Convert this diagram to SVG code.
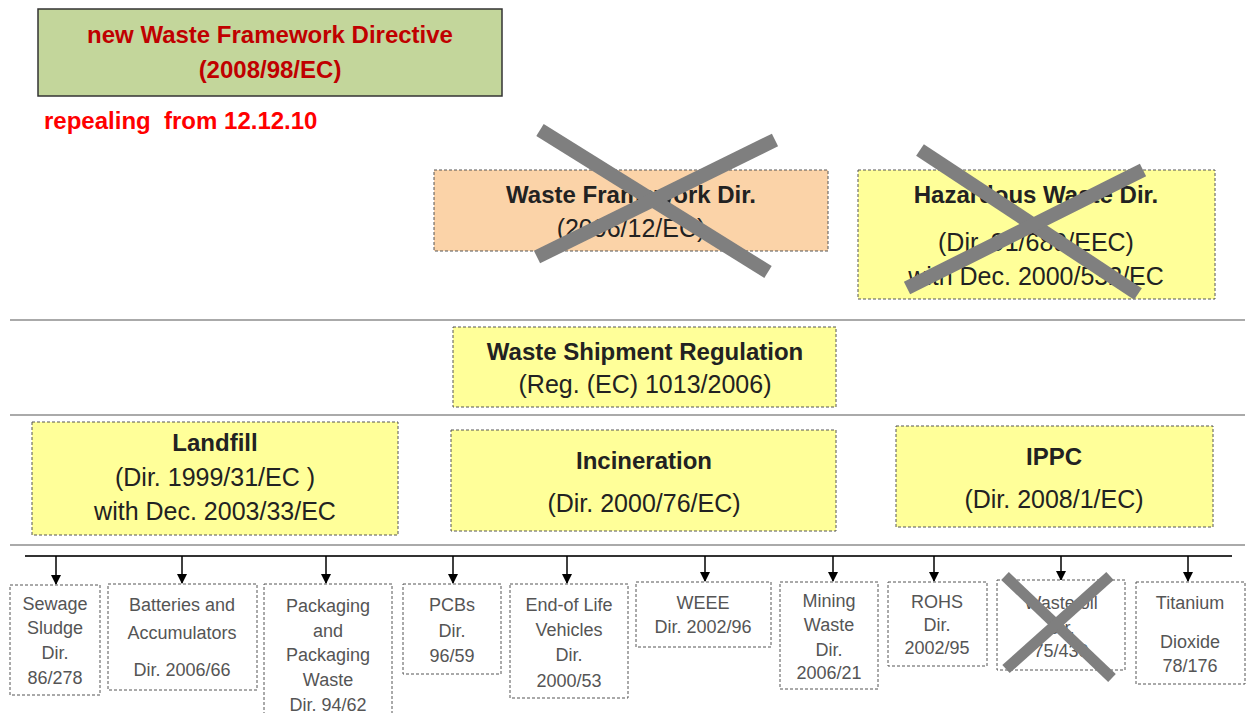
<svg xmlns="http://www.w3.org/2000/svg" width="1247" height="713" viewBox="0 0 1247 713">
<defs>
<marker id="ah" markerWidth="10" markerHeight="10" refX="9" refY="5" orient="auto" markerUnits="userSpaceOnUse" viewBox="0 0 10 10">
<path d="M0,0 L10,5 L0,10 Z" fill="#000"/>
</marker>
<style>
.t{font-family:"Liberation Sans",Arial,sans-serif;text-anchor:middle;fill:#222}
.b{font-weight:bold}
.big{font-size:25px}
.bb{font-size:24px;font-weight:bold}
.sm{font-size:18px;fill:#555}
.box{stroke:#555;stroke-width:1;stroke-dasharray:3,2}
.y{fill:#ffff99}
.w{fill:#fff}
.sep{stroke:#aaa;stroke-width:2}
.x{stroke:#7f7f7f;stroke-width:14;stroke-linecap:butt}
.arr{stroke:#000;stroke-width:1.5;marker-end:url(#ah)}
</style>
</defs>
<rect width="1247" height="713" fill="#fff"/>

<g id="sep-lines">
<line class="sep" x1="10" y1="320" x2="1245" y2="320"/>
<line class="sep" x1="10" y1="415" x2="1245" y2="415"/>
<line class="sep" x1="10" y1="545" x2="1245" y2="545"/>
</g>

<g id="new-wfd">
<rect x="38" y="9" width="464" height="87" fill="#c3d69b" stroke="#333" stroke-width="1.5"/>
<text class="t b" x="270" y="43" font-size="24" style="fill:#c00000">new Waste Framework Directive</text>
<text class="t b" x="270" y="78" font-size="24" style="fill:#c00000">(2008/98/EC)</text>
</g>
<g id="repealing">
<text x="44" y="129" font-family="Liberation Sans, Arial, sans-serif" font-weight="bold" font-size="24" fill="#ff0000" xml:space="preserve">repealing  from 12.12.10</text>
</g>

<g id="old-wfd">
<rect class="box" x="434" y="170" width="394" height="81" fill="#fbd3a8"/>
<text class="t bb" x="631" y="203">Waste Framework Dir.</text>
<text class="t big" x="631" y="237">(2006/12/EC)</text>
<line class="x" x1="540" y1="130" x2="768" y2="272"/>
<line class="x" x1="775" y1="140" x2="537" y2="257"/>
</g>

<g id="hazardous">
<rect class="box y" x="858" y="170" width="357" height="129"/>
<text class="t bb" x="1036" y="203">Hazardous Waste Dir.</text>
<text class="t big" x="1036" y="251">(Dir. 91/689/EEC)</text>
<text class="t big" x="1036" y="285">with Dec. 2000/532/EC</text>
<line class="x" x1="920" y1="150" x2="1138" y2="294"/>
<line class="x" x1="1143" y1="170" x2="907" y2="288"/>
</g>

<g id="shipment">
<rect class="box y" x="453" y="327" width="383" height="80"/>
<text class="t bb" x="645" y="360">Waste Shipment Regulation</text>
<text class="t big" x="645" y="393">(Reg. (EC) 1013/2006)</text>
</g>

<g id="landfill">
<rect class="box y" x="32" y="422" width="366" height="113"/>
<text class="t bb" x="215" y="451">Landfill</text>
<text class="t big" x="215" y="486">(Dir. 1999/31/EC )</text>
<text class="t big" x="215" y="520">with Dec. 2003/33/EC</text>
</g>

<g id="incineration">
<rect class="box y" x="451" y="430" width="385" height="101"/>
<text class="t bb" x="644" y="469">Incineration</text>
<text class="t big" x="644" y="512">(Dir. 2000/76/EC)</text>
</g>

<g id="ippc">
<rect class="box y" x="896" y="426" width="317" height="101"/>
<text class="t bb" x="1054" y="465">IPPC</text>
<text class="t big" x="1054" y="508">(Dir. 2008/1/EC)</text>
</g>

<g id="connectors">
<line x1="25" y1="556" x2="1232" y2="556" stroke="#333" stroke-width="2"/>
<line class="arr" x1="56" y1="556" x2="56" y2="584"/>
<line class="arr" x1="182" y1="556" x2="182" y2="583"/>
<line class="arr" x1="326" y1="556" x2="326" y2="583"/>
<line class="arr" x1="453" y1="556" x2="453" y2="583"/>
<line class="arr" x1="567" y1="556" x2="567" y2="583"/>
<line class="arr" x1="705" y1="556" x2="705" y2="581"/>
<line class="arr" x1="833" y1="556" x2="833" y2="581"/>
<line class="arr" x1="934" y1="556" x2="934" y2="581"/>
<line class="arr" x1="1061" y1="556" x2="1061" y2="580"/>
<line class="arr" x1="1188" y1="556" x2="1188" y2="581"/>
</g>

<g id="sewage">
<rect class="box w" x="10" y="585" width="90" height="110"/>
<text class="t sm" x="55" y="610">Sewage</text>
<text class="t sm" x="55" y="634">Sludge</text>
<text class="t sm" x="55" y="659">Dir.</text>
<text class="t sm" x="55" y="684">86/278</text>
</g>
<g id="batteries">
<rect class="box w" x="108" y="584" width="149" height="106"/>
<text class="t sm" x="182" y="611">Batteries and</text>
<text class="t sm" x="182" y="639">Accumulators</text>
<text class="t sm" x="182" y="676">Dir. 2006/66</text>
</g>
<g id="packaging">
<rect class="box w" x="264" y="584" width="128" height="135"/>
<text class="t sm" x="328" y="612">Packaging</text>
<text class="t sm" x="328" y="637">and</text>
<text class="t sm" x="328" y="661">Packaging</text>
<text class="t sm" x="328" y="686">Waste</text>
<text class="t sm" x="328" y="711">Dir. 94/62</text>
</g>
<g id="pcbs">
<rect class="box w" x="403" y="584" width="98" height="90"/>
<text class="t sm" x="452" y="611">PCBs</text>
<text class="t sm" x="452" y="637">Dir.</text>
<text class="t sm" x="452" y="662">96/59</text>
</g>
<g id="elv">
<rect class="box w" x="510" y="584" width="118" height="114"/>
<text class="t sm" x="569" y="611">End-of Life</text>
<text class="t sm" x="569" y="636">Vehicles</text>
<text class="t sm" x="569" y="661">Dir.</text>
<text class="t sm" x="569" y="687">2000/53</text>
</g>
<g id="weee">
<rect class="box w" x="636" y="582" width="135" height="65"/>
<text class="t sm" x="703" y="609">WEEE</text>
<text class="t sm" x="703" y="633">Dir. 2002/96</text>
</g>
<g id="mining">
<rect class="box w" x="780" y="582" width="98" height="107"/>
<text class="t sm" x="829" y="607">Mining</text>
<text class="t sm" x="829" y="631">Waste</text>
<text class="t sm" x="829" y="656">Dir.</text>
<text class="t sm" x="829" y="679">2006/21</text>
</g>
<g id="rohs">
<rect class="box w" x="888" y="582" width="99" height="84"/>
<text class="t sm" x="937" y="608">ROHS</text>
<text class="t sm" x="937" y="631">Dir.</text>
<text class="t sm" x="937" y="654">2002/95</text>
</g>
<g id="waste-oil">
<rect class="box w" x="997" y="580" width="128" height="90"/>
<text class="t sm" x="1061" y="609">Waste oil</text>
<text class="t sm" x="1061" y="634">Dir.</text>
<text class="t sm" x="1061" y="657">75/439</text>
<line class="x" x1="1005" y1="576" x2="1112" y2="678" style="stroke-width:11"/>
<line class="x" x1="1110" y1="576" x2="1006" y2="669" style="stroke-width:11"/>
</g>
<g id="titanium">
<rect class="box w" x="1136" y="582" width="109" height="102"/>
<text class="t sm" x="1190" y="609">Titanium</text>
<text class="t sm" x="1190" y="648">Dioxide</text>
<text class="t sm" x="1190" y="672">78/176</text>
</g>
</svg>
